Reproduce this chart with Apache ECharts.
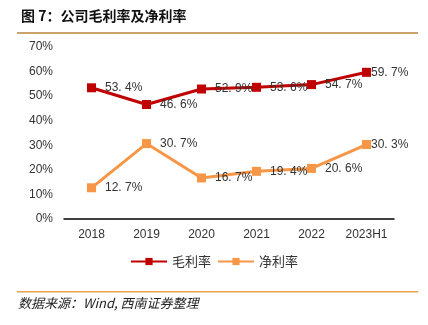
<!DOCTYPE html>
<html><head><meta charset="utf-8">
<script src="https://cdn.jsdelivr.net/npm/echarts@6/dist/echarts.min.js"></script>
<style>html,body{margin:0;padding:0;background:#fff}#c{width:428px;height:325px}</style>
</head><body><div id="c"></div>
<script>
const categories = ['2018','2019','2020','2021','2022','2023H1'];
const grossMargin = [53.4, 46.6, 52.9, 53.6, 54.7, 59.7];
const netMargin = [12.7, 30.7, 16.7, 19.4, 20.6, 30.3];
const seriesNames = ['毛利率','净利率'];

const fmt = p => p.value.toFixed(1).replace('.', '. ') + '%';
const lastIdx = categories.length - 1;
const toItems = arr => arr.map((v, i) => i === lastIdx ? {value: v, label: {distance: 0}} : v);
const chart = echarts.init(document.getElementById('c'));
chart.setOption({
  animation:false,
  title:{text:'图 7：公司毛利率及净利率', left:16, top:4,
    textStyle:{fontSize:14, fontWeight:'bold', color:'#111', fontFamily:'Noto Sans CJK SC'}},
  grid:{left:64, right:34, top:47, bottom:106},
  legend:{bottom:52, left:'center', itemWidth:36, itemHeight:9, itemGap:6,
    textStyle:{fontSize:13, color:'#333', fontFamily:'Noto Sans CJK SC'}},
  xAxis:{type:'category', data:categories,
    axisLine:{lineStyle:{color:'#000', width:1.5}}, axisTick:{show:false},
    axisLabel:{color:'#333', fontSize:12, margin:10, fontFamily:'Liberation Sans'}},
  yAxis:{type:'value', min:0, max:70, interval:10,
    axisLine:{show:false}, axisTick:{show:false}, splitLine:{show:false},
    axisLabel:{color:'#333', fontSize:12, margin:11, fontFamily:'Liberation Sans', formatter:v=>v+'%'}},
  series:[
    {name:seriesNames[0], type:'line', data:toItems(grossMargin), symbol:'rect', symbolSize:9,
     lineStyle:{color:'#C00000', width:3}, itemStyle:{color:'#C00000'},
     label:{show:true, position:'right', distance:9, fontSize:12, color:'#333', fontFamily:'Liberation Sans', formatter:fmt}},
    {name:seriesNames[1], type:'line', data:toItems(netMargin), symbol:'rect', symbolSize:9,
     lineStyle:{color:'#F79646', width:3}, itemStyle:{color:'#F79646'},
     label:{show:true, position:'right', distance:9, fontSize:12, color:'#333', fontFamily:'Liberation Sans', formatter:fmt}}
  ],
  graphic:[
    {type:'rect', shape:{x:17, y:32, width:401, height:2}, style:{fill:'#C9A36A'}},
    {type:'rect', shape:{x:17, y:291, width:401, height:1.5}, style:{fill:'#E8A04A'}},
    {type:'text', left:18, top:297, style:{text:'数据来源：Wind, 西南证券整理', fontSize:13, fontStyle:'italic', fill:'#222', fontFamily:'Noto Sans CJK SC'}}
  ]
});
</script></body></html>
